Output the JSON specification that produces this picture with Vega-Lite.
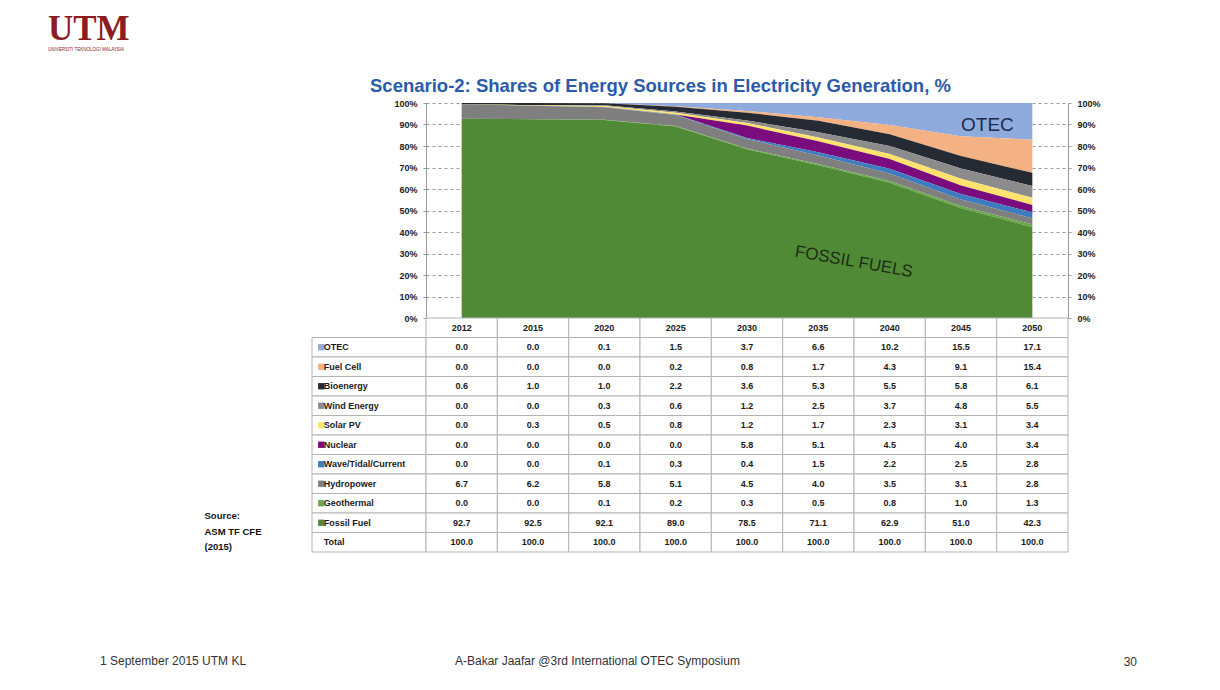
{
  "$schema": "https://vega.github.io/schema/vega-lite/v6.json",
  "background": "white",
  "padding": {"left": 48, "top": 11, "right": 5, "bottom": 5},
  "datasets": {
    "shares": [
      {"source": "OTEC", "year": "2012", "value": 0.0}, {"source": "OTEC", "year": "2015", "value": 0.0}, {"source": "OTEC", "year": "2020", "value": 0.1}, {"source": "OTEC", "year": "2025", "value": 1.5}, {"source": "OTEC", "year": "2030", "value": 3.7}, {"source": "OTEC", "year": "2035", "value": 6.6}, {"source": "OTEC", "year": "2040", "value": 10.2}, {"source": "OTEC", "year": "2045", "value": 15.5}, {"source": "OTEC", "year": "2050", "value": 17.1},
      {"source": "Fuel Cell", "year": "2012", "value": 0.0}, {"source": "Fuel Cell", "year": "2015", "value": 0.0}, {"source": "Fuel Cell", "year": "2020", "value": 0.0}, {"source": "Fuel Cell", "year": "2025", "value": 0.2}, {"source": "Fuel Cell", "year": "2030", "value": 0.8}, {"source": "Fuel Cell", "year": "2035", "value": 1.7}, {"source": "Fuel Cell", "year": "2040", "value": 4.3}, {"source": "Fuel Cell", "year": "2045", "value": 9.1}, {"source": "Fuel Cell", "year": "2050", "value": 15.4},
      {"source": "Bioenergy", "year": "2012", "value": 0.6}, {"source": "Bioenergy", "year": "2015", "value": 1.0}, {"source": "Bioenergy", "year": "2020", "value": 1.0}, {"source": "Bioenergy", "year": "2025", "value": 2.2}, {"source": "Bioenergy", "year": "2030", "value": 3.6}, {"source": "Bioenergy", "year": "2035", "value": 5.3}, {"source": "Bioenergy", "year": "2040", "value": 5.5}, {"source": "Bioenergy", "year": "2045", "value": 5.8}, {"source": "Bioenergy", "year": "2050", "value": 6.1},
      {"source": "Wind Energy", "year": "2012", "value": 0.0}, {"source": "Wind Energy", "year": "2015", "value": 0.0}, {"source": "Wind Energy", "year": "2020", "value": 0.3}, {"source": "Wind Energy", "year": "2025", "value": 0.6}, {"source": "Wind Energy", "year": "2030", "value": 1.2}, {"source": "Wind Energy", "year": "2035", "value": 2.5}, {"source": "Wind Energy", "year": "2040", "value": 3.7}, {"source": "Wind Energy", "year": "2045", "value": 4.8}, {"source": "Wind Energy", "year": "2050", "value": 5.5},
      {"source": "Solar PV", "year": "2012", "value": 0.0}, {"source": "Solar PV", "year": "2015", "value": 0.3}, {"source": "Solar PV", "year": "2020", "value": 0.5}, {"source": "Solar PV", "year": "2025", "value": 0.8}, {"source": "Solar PV", "year": "2030", "value": 1.2}, {"source": "Solar PV", "year": "2035", "value": 1.7}, {"source": "Solar PV", "year": "2040", "value": 2.3}, {"source": "Solar PV", "year": "2045", "value": 3.1}, {"source": "Solar PV", "year": "2050", "value": 3.4},
      {"source": "Nuclear", "year": "2012", "value": 0.0}, {"source": "Nuclear", "year": "2015", "value": 0.0}, {"source": "Nuclear", "year": "2020", "value": 0.0}, {"source": "Nuclear", "year": "2025", "value": 0.0}, {"source": "Nuclear", "year": "2030", "value": 5.8}, {"source": "Nuclear", "year": "2035", "value": 5.1}, {"source": "Nuclear", "year": "2040", "value": 4.5}, {"source": "Nuclear", "year": "2045", "value": 4.0}, {"source": "Nuclear", "year": "2050", "value": 3.4},
      {"source": "Wave/Tidal/Current", "year": "2012", "value": 0.0}, {"source": "Wave/Tidal/Current", "year": "2015", "value": 0.0}, {"source": "Wave/Tidal/Current", "year": "2020", "value": 0.1}, {"source": "Wave/Tidal/Current", "year": "2025", "value": 0.3}, {"source": "Wave/Tidal/Current", "year": "2030", "value": 0.4}, {"source": "Wave/Tidal/Current", "year": "2035", "value": 1.5}, {"source": "Wave/Tidal/Current", "year": "2040", "value": 2.2}, {"source": "Wave/Tidal/Current", "year": "2045", "value": 2.5}, {"source": "Wave/Tidal/Current", "year": "2050", "value": 2.8},
      {"source": "Hydropower", "year": "2012", "value": 6.7}, {"source": "Hydropower", "year": "2015", "value": 6.2}, {"source": "Hydropower", "year": "2020", "value": 5.8}, {"source": "Hydropower", "year": "2025", "value": 5.1}, {"source": "Hydropower", "year": "2030", "value": 4.5}, {"source": "Hydropower", "year": "2035", "value": 4.0}, {"source": "Hydropower", "year": "2040", "value": 3.5}, {"source": "Hydropower", "year": "2045", "value": 3.1}, {"source": "Hydropower", "year": "2050", "value": 2.8},
      {"source": "Geothermal", "year": "2012", "value": 0.0}, {"source": "Geothermal", "year": "2015", "value": 0.0}, {"source": "Geothermal", "year": "2020", "value": 0.1}, {"source": "Geothermal", "year": "2025", "value": 0.2}, {"source": "Geothermal", "year": "2030", "value": 0.3}, {"source": "Geothermal", "year": "2035", "value": 0.5}, {"source": "Geothermal", "year": "2040", "value": 0.8}, {"source": "Geothermal", "year": "2045", "value": 1.0}, {"source": "Geothermal", "year": "2050", "value": 1.3},
      {"source": "Fossil Fuel", "year": "2012", "value": 92.7}, {"source": "Fossil Fuel", "year": "2015", "value": 92.5}, {"source": "Fossil Fuel", "year": "2020", "value": 92.1}, {"source": "Fossil Fuel", "year": "2025", "value": 89.0}, {"source": "Fossil Fuel", "year": "2030", "value": 78.5}, {"source": "Fossil Fuel", "year": "2035", "value": 71.1}, {"source": "Fossil Fuel", "year": "2040", "value": 62.9}, {"source": "Fossil Fuel", "year": "2045", "value": 51.0}, {"source": "Fossil Fuel", "year": "2050", "value": 42.3},
      {"source": "Total", "year": "2012", "value": 100.0}, {"source": "Total", "year": "2015", "value": 100.0}, {"source": "Total", "year": "2020", "value": 100.0}, {"source": "Total", "year": "2025", "value": 100.0}, {"source": "Total", "year": "2030", "value": 100.0}, {"source": "Total", "year": "2035", "value": 100.0}, {"source": "Total", "year": "2040", "value": 100.0}, {"source": "Total", "year": "2045", "value": 100.0}, {"source": "Total", "year": "2050", "value": 100.0}
    ]
  },
  "config": {
    "view": {"stroke": null},
    "font": "Liberation Sans",
    "title": {"frame": "group"}
  },
  "columns": 2,
  "spacing": 0,
  "bounds": "flush",
  "align": "each",
  "concat": [
    {
      "width": 114,
      "height": 215,
      "data": {"values": []},
      "mark": "point",
      "title": {
        "text": "UTM",
        "subtitle": "UNIVERSITI TEKNOLOGI MALAYSIA",
        "anchor": "start",
        "dx": -264,
        "offset": 52,
        "font": "Liberation Serif",
        "fontSize": 35,
        "fontWeight": "bold",
        "color": "#8a1c22",
        "subtitleFont": "Liberation Sans",
        "subtitleFontSize": 4.5,
        "subtitleColor": "#8a1c22",
        "subtitlePadding": 0
      }
    },
    {
      "width": 642,
      "height": 215,
      "title": {
        "text": "Scenario-2: Shares of Energy Sources in Electricity Generation, %",
        "anchor": "start",
        "dx": -56,
        "offset": 4,
        "font": "Liberation Sans",
        "fontSize": 18.5,
        "fontWeight": "bold",
        "color": "#2b5ba8"
      },
      "layer": [
        {
          "data": {"name": "shares"},
          "transform": [
            {"filter": "datum.source !== 'Total'"},
            {"calculate": "indexof(['Fossil Fuel', 'Geothermal', 'Hydropower', 'Wave/Tidal/Current', 'Nuclear', 'Solar PV', 'Wind Energy', 'Bioenergy', 'Fuel Cell', 'OTEC'], datum.source)", "as": "stackrank"}
          ],
          "mark": {"type": "area", "interpolate": "linear"},
          "encoding": {
            "x": {"field": "year", "type": "ordinal", "scale": {"type": "point", "padding": 0.5}, "axis": null},
            "y": {
              "field": "value", "type": "quantitative", "stack": "normalize",
              "scale": {"domain": [0, 1]},
              "axis": {
                "orient": "left", "title": null, "format": ".0%",
                "values": [0, 0.1, 0.2, 0.3, 0.4, 0.5, 0.6, 0.7, 0.8, 0.9, 1],
                "labelFontSize": 9, "labelFontWeight": "bold", "labelColor": "#222222",
                "tickSize": 3, "tickColor": "#999999", "labelPadding": 6,
                "domain": true, "domainColor": "#999999",
                "grid": true, "gridDash": [3, 3], "gridColor": "#9a9a9a"
              }
            },
            "order": {"field": "stackrank", "type": "quantitative", "sort": "ascending"},
            "color": {
              "field": "source", "type": "nominal", "legend": null,
              "scale": {
                "domain": ["OTEC", "Fuel Cell", "Bioenergy", "Wind Energy", "Solar PV", "Nuclear", "Wave/Tidal/Current", "Hydropower", "Geothermal", "Fossil Fuel"],
                "range": ["#8FAADC", "#F4B183", "#262B33", "#8C8C8C", "#FFE36E", "#7A0C7E", "#3E7CBF", "#7F7F7F", "#6AA84F", "#508A36"]
              }
            }
          }
        },
        {
          "data": {"values": [{"label": "OTEC"}]},
          "mark": {"type": "text", "align": "left", "baseline": "middle", "fontSize": 19, "color": "#1c2a50"},
          "encoding": {
            "x": {"datum": "2045", "type": "ordinal"},
            "y": {
              "datum": 0.9, "type": "quantitative", "scale": {"domain": [0, 1]},
              "axis": {
                "orient": "right", "title": null, "format": ".0%",
                "values": [0, 0.1, 0.2, 0.3, 0.4, 0.5, 0.6, 0.7, 0.8, 0.9, 1],
                "labelFontSize": 9, "labelFontWeight": "bold", "labelColor": "#222222",
                "tickSize": 3, "tickColor": "#999999", "labelPadding": 6,
                "domain": true, "domainColor": "#999999", "grid": false
              }
            },
            "text": {"field": "label"}
          }
        },
        {
          "data": {"values": [{"label": "FOSSIL FUELS"}]},
          "mark": {"type": "text", "align": "center", "baseline": "middle", "fontSize": 17, "angle": 10, "dx": 36, "color": "#1e2e14"},
          "encoding": {
            "x": {"datum": "2035", "type": "ordinal"},
            "y": {"datum": 0.29, "type": "quantitative", "scale": {"domain": [0, 1]}, "axis": null},
            "text": {"field": "label"}
          }
        }
      ],
      "resolve": {"scale": {"y": "independent"}}
    },
    {
      "width": 114,
      "height": 234,
      "title": {
        "text": ["Source:", "ASM TF CFE", "(2015)"],
        "orient": "left",
        "angle": 0,
        "align": "left",
        "anchor": "start",
        "baseline": "bottom",
        "offset": 50,
        "dy": -31,
        "fontSize": 9.5,
        "fontWeight": "bold",
        "color": "#111111",
        "lineHeight": 15.5
      },
      "data": {"name": "shares"},
      "transform": [{"filter": "datum.year === '2012'"}],
      "encoding": {
        "y": {
          "field": "source", "type": "nominal", "axis": null,
          "scale": {"domain": ["header", "OTEC", "Fuel Cell", "Bioenergy", "Wind Energy", "Solar PV", "Nuclear", "Wave/Tidal/Current", "Hydropower", "Geothermal", "Fossil Fuel", "Total"], "paddingInner": 0, "paddingOuter": 0}
        }
      },
      "layer": [
        {"mark": {"type": "rect", "fill": "white", "stroke": "#b3b3b3", "strokeWidth": 1}},
        {
          "transform": [{"filter": "datum.source !== 'Total'"}],
          "mark": {"type": "square", "filled": true, "size": 40, "opacity": 1},
          "encoding": {
            "x": {"datum": "swatch", "type": "nominal", "scale": {"type": "point", "domain": ["swatch", "label"], "range": [8, 13]}, "axis": null},
            "color": {
              "field": "source", "type": "nominal", "legend": null,
              "scale": {
                "domain": ["OTEC", "Fuel Cell", "Bioenergy", "Wind Energy", "Solar PV", "Nuclear", "Wave/Tidal/Current", "Hydropower", "Geothermal", "Fossil Fuel"],
                "range": ["#8FAADC", "#F4B183", "#262B33", "#8C8C8C", "#FFE36E", "#7A0C7E", "#3E7CBF", "#7F7F7F", "#6AA84F", "#508A36"]
              }
            }
          }
        },
        {
          "mark": {"type": "text", "align": "left", "baseline": "middle", "fontSize": 9, "fontWeight": "bold", "color": "#1a1a1a"},
          "encoding": {
            "x": {"datum": "label", "type": "nominal"},
            "text": {"field": "source"}
          }
        }
      ]
    },
    {
      "width": 642,
      "height": 234,
      "title": {
        "text": "30",
        "orient": "bottom",
        "anchor": "end",
        "dx": 69,
        "offset": 104,
        "fontSize": 12,
        "fontWeight": "normal",
        "color": "#333333"
      },
      "data": {"name": "shares"},
      "encoding": {
        "x": {"field": "year", "type": "ordinal", "axis": null, "scale": {"type": "band", "paddingInner": 0, "paddingOuter": 0}},
        "y": {
          "field": "source", "type": "nominal", "axis": null,
          "scale": {"domain": ["header", "OTEC", "Fuel Cell", "Bioenergy", "Wind Energy", "Solar PV", "Nuclear", "Wave/Tidal/Current", "Hydropower", "Geothermal", "Fossil Fuel", "Total"], "paddingInner": 0, "paddingOuter": 0}
        }
      },
      "layer": [
        {"mark": {"type": "rect", "fill": "white", "stroke": "#b3b3b3", "strokeWidth": 1}},
        {
          "mark": {"type": "text", "baseline": "middle", "fontSize": 9, "fontWeight": "bold", "color": "#1a1a1a"},
          "encoding": {"text": {"field": "value", "format": ".1f"}}
        },
        {
          "transform": [{"filter": "datum.source === 'Total'"}],
          "mark": {"type": "rect", "fill": "white", "stroke": "#b3b3b3", "strokeWidth": 1},
          "encoding": {"y": {"datum": "header", "type": "nominal"}}
        },
        {
          "transform": [{"filter": "datum.source === 'Total'"}],
          "mark": {"type": "text", "baseline": "middle", "fontSize": 9, "fontWeight": "bold", "color": "#1a1a1a"},
          "encoding": {"y": {"datum": "header", "type": "nominal"}, "text": {"field": "year"}}
        }
      ]
    },
    {
      "width": 114,
      "height": 100,
      "data": {"values": []},
      "mark": "point",
      "title": {
        "text": "1 September 2015 UTM KL",
        "orient": "bottom",
        "anchor": "start",
        "dx": -212,
        "offset": 4,
        "fontSize": 12,
        "fontWeight": "normal",
        "color": "#333333"
      }
    },
    {
      "width": 642,
      "height": 100,
      "data": {"values": []},
      "mark": "point",
      "title": {
        "text": "A-Bakar Jaafar @3rd International OTEC Symposium",
        "orient": "bottom",
        "anchor": "start",
        "dx": 29,
        "offset": 4,
        "fontSize": 12,
        "fontWeight": "normal",
        "color": "#333333"
      }
    }
  ]
}
